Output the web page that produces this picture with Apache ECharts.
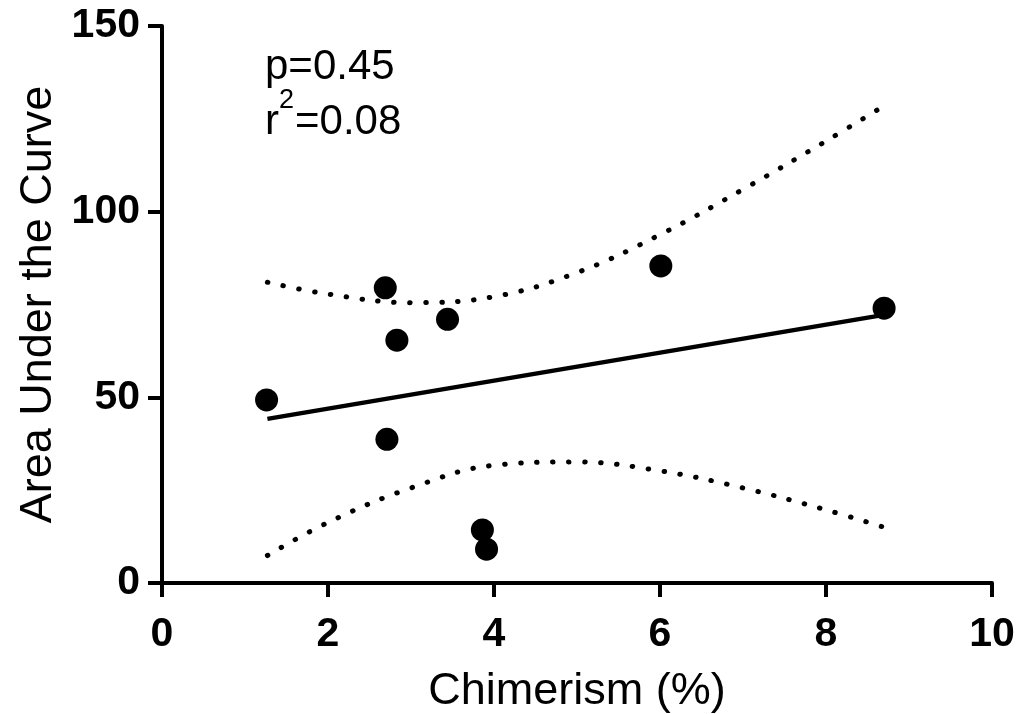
<!DOCTYPE html>
<html>
<head>
<meta charset="utf-8">
<script src="https://cdn.jsdelivr.net/npm/echarts@6/dist/echarts.min.js"></script>
<style>
html,body{margin:0;padding:0;background:#fff;}
#chart{width:1019px;height:714px;}
</style>
</head>
<body>
<div id="chart"></div>
<script>
// Data
const pointX = [1.26, 2.69, 2.83, 3.44, 2.71, 3.86, 3.91, 6.01, 8.70];
const pointY = [49.3, 79.5, 65.4, 71.0, 38.7, 14.3, 9.1, 85.4, 74.0];
const fitX = [1.27, 8.70];
const fitY = [44.2, 72.2];
const bandX = [1.27, 2, 3, 4, 5, 6, 7, 8, 8.7];
const bandUpper = [81.0, 77.8, 75.5, 77.1, 83.6, 93.8, 106.0, 119.0, 128.5];
const bandLower = [7.4, 16.3, 25.6, 31.7, 32.6, 30.2, 25.6, 19.7, 15.0];
const xTicks = [0, 2, 4, 6, 8, 10];
const yTicks = [0, 50, 100, 150];
const xTitle = 'Chimerism (%)';
const yTitle = 'Area Under the Curve';
const statP = 'p=0.45';
const statR = 'r';
const statSup = '2';
const statR2 = '=0.08';

const FONT = "'Liberation Sans', Arial, sans-serif";
const zip = (xs, ys) => xs.map((x, i) => [x, ys[i]]);

const chart = echarts.init(document.getElementById('chart'), null, {renderer: 'canvas'});
const axisLine = {show: true, onZero: false, lineStyle: {color: '#000', width: 4}};
const axisTick = {show: true, inside: false, length: 14, lineStyle: {color: '#000', width: 4}};
chart.setOption({
  backgroundColor: '#fff',
  animation: false,
  grid: {left: 162, right: 27, top: 26, bottom: 131, containLabel: false, outerBoundsMode: 'none'},
  xAxis: {
    type: 'value', min: xTicks[0], max: xTicks[xTicks.length - 1], interval: 2,
    axisLine, axisTick, splitLine: {show: false},
    axisLabel: {color: '#000', fontFamily: FONT, fontWeight: 'bold', fontSize: 41, margin: 31},
    name: xTitle, nameLocation: 'middle', nameGap: 86,
    nameTextStyle: {color: '#000', fontFamily: FONT, fontSize: 45}
  },
  yAxis: {
    type: 'value', min: yTicks[0], max: yTicks[yTicks.length - 1], interval: 50,
    axisLine, axisTick, splitLine: {show: false},
    axisLabel: {color: '#000', fontFamily: FONT, fontWeight: 'bold', fontSize: 41, margin: 22},
    name: yTitle, nameLocation: 'middle', nameGap: 97, nameRotate: 90,
    nameTextStyle: {color: '#000', fontFamily: FONT, fontSize: 45}
  },
  graphic: [
    {type: 'text', left: 265, top: 46, z: 10,
     style: {text: statP, font: '42px ' + FONT, fill: '#000'}},
    {type: 'text', left: 265, top: 101, z: 10,
     style: {text: statR, font: '42px ' + FONT, fill: '#000'}},
    {type: 'text', left: 279, top: 87, z: 10,
     style: {text: statSup, font: '27px ' + FONT, fill: '#000'}},
    {type: 'text', left: 295, top: 101, z: 10,
     style: {text: statR2, font: '42px ' + FONT, fill: '#000'}}
  ],
  series: [
    {type: 'line', data: zip(bandX, bandUpper), smooth: 0.4, symbol: 'none',
     lineStyle: {color: '#000', width: 5, type: [0.5, 15.5], cap: 'round'}, z: 2},
    {type: 'line', data: zip(bandX, bandLower), smooth: 0.4, symbol: 'none',
     lineStyle: {color: '#000', width: 5, type: [0.5, 15.5], cap: 'round'}, z: 2},
    {type: 'line', data: zip(fitX, fitY), symbol: 'none',
     lineStyle: {color: '#000', width: 4.5}, z: 3},
    {type: 'scatter', data: zip(pointX, pointY), symbol: 'circle', symbolSize: 23,
     itemStyle: {color: '#000', opacity: 1}, z: 4}
  ]
});
</script>
</body>
</html>
